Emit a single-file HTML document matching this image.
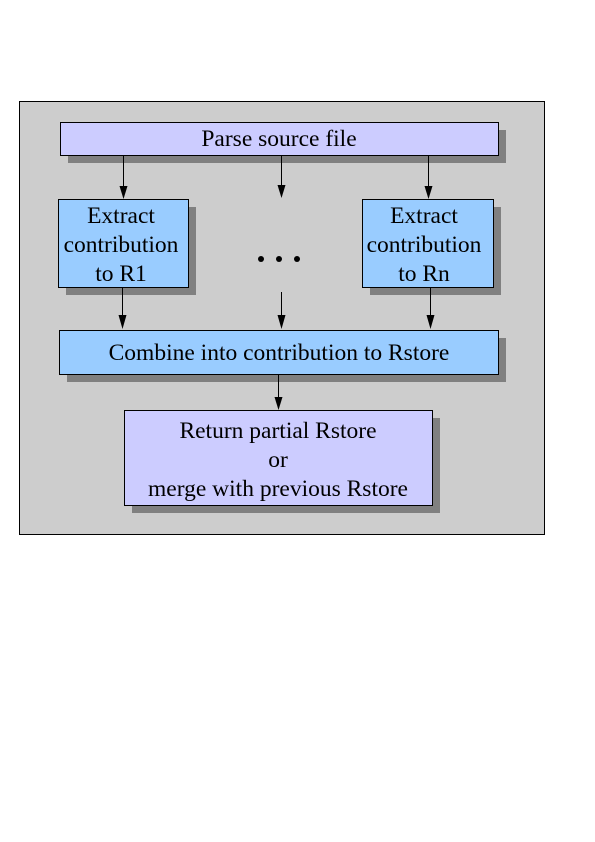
<!DOCTYPE html>
<html><head><meta charset="utf-8"><style>
html,body{margin:0;padding:0;background:#fff;}
svg{display:block;}
text{font-family:"Liberation Serif",serif;font-size:23.5px;fill:#000;text-anchor:middle;}
</style></head><body>
<svg width="595" height="842" viewBox="0 0 595 842" xmlns="http://www.w3.org/2000/svg">
<rect x="19.5" y="101.5" width="525" height="433" fill="#cdcdcd" stroke="#000" stroke-width="1"/>
<g fill="#808080">
<rect x="68" y="130" width="438" height="33"/>
<rect x="66" y="207" width="130" height="88"/>
<rect x="370" y="207" width="131" height="88"/>
<rect x="67" y="338" width="439" height="44"/>
<rect x="132" y="418" width="308" height="95"/>
</g>
<g stroke="#000" stroke-width="1">
<rect x="60.5" y="122.5" width="438" height="33" fill="#ccccff"/>
<rect x="58.5" y="199.5" width="130" height="88" fill="#99ccff"/>
<rect x="362.5" y="199.5" width="131" height="88" fill="#99ccff"/>
<rect x="59.5" y="330.5" width="439" height="44" fill="#99ccff"/>
<rect x="124.5" y="410.5" width="308" height="95" fill="#ccccff"/>
</g>
<g stroke="#000" stroke-width="1">
<line x1="123.5" y1="156" x2="123.5" y2="188"/>
<line x1="281.5" y1="156" x2="281.5" y2="187"/>
<line x1="428.5" y1="156" x2="428.5" y2="188"/>
<line x1="122.5" y1="288" x2="122.5" y2="317"/>
<line x1="281.5" y1="292" x2="281.5" y2="317"/>
<line x1="430.5" y1="288" x2="430.5" y2="317"/>
<line x1="278.5" y1="375" x2="278.5" y2="399"/>
</g>
<g fill="#000">
<path d="M119.5,186 L127.5,186 L123.5,199 Z"/>
<path d="M277.5,185 L285.5,185 L281.5,198 Z"/>
<path d="M424.5,186 L432.5,186 L428.5,199 Z"/>
<path d="M118.5,315 L126.5,315 L122.5,329 Z"/>
<path d="M277.5,315 L285.5,315 L281.5,329 Z"/>
<path d="M426.5,315 L434.5,315 L430.5,329 Z"/>
<path d="M274.5,397 L282.5,397 L278.5,410 Z"/>
<circle cx="261" cy="259" r="3"/>
<circle cx="279" cy="259" r="3"/>
<circle cx="297" cy="259" r="3"/>
</g>
<text x="279" y="146">Parse source file</text>
<text x="121" y="223">Extract</text>
<text x="121" y="252">contribution</text>
<text x="121" y="281">to R1</text>
<text x="424" y="223">Extract</text>
<text x="424" y="252">contribution</text>
<text x="424" y="281">to Rn</text>
<text x="279" y="360">Combine into contribution to Rstore</text>
<text x="278" y="438">Return partial Rstore</text>
<text x="278" y="467">or</text>
<text x="278" y="496">merge with previous Rstore</text>
</svg>
</body></html>
